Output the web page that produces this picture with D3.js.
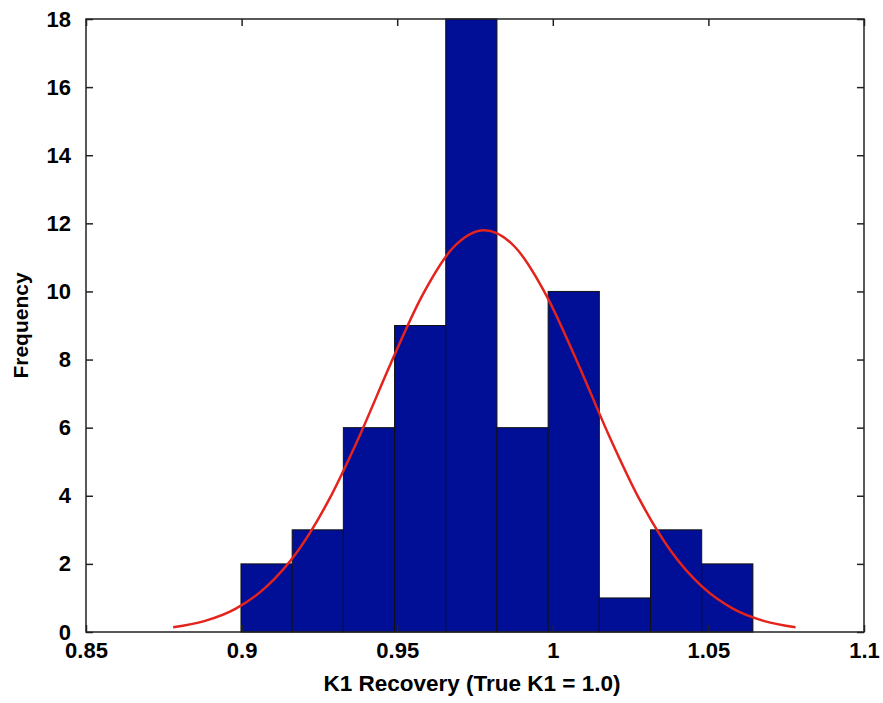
<!DOCTYPE html>
<html><head><meta charset="UTF-8">
<style>
body { margin: 0; background: #fff; }
text { font-family: "Liberation Sans", Arial, sans-serif; font-weight: bold; fill: #000; }
.bar { fill: #000f96; stroke: #111; stroke-width: 1; }
.fit { fill: none; stroke: #e3231c; stroke-width: 2.5px; }
</style>
</head>
<body>
<svg width="883" height="703"></svg>
<script src="https://cdn.jsdelivr.net/npm/d3@7"></script>
<script>

// histogram bins (left edge) and counts
var binEdges = [0.8998, 0.91625, 0.9327, 0.94915, 0.9656, 0.98205, 0.9985, 1.01495, 1.0314, 1.04785, 1.0643];
var counts = [2, 3, 6, 9, 18, 6, 10, 1, 3, 2];

// fitted curve
var fitX = [0.878, 0.888, 0.898, 0.908, 0.918, 0.928, 0.938, 0.948, 0.958, 0.968, 0.978,
            0.988, 0.998, 1.008, 1.018, 1.028, 1.038, 1.048, 1.058, 1.068, 1.078];
var fitY = [0.14, 0.32, 0.68, 1.33, 2.37, 3.87, 5.78, 7.90, 9.87, 11.29, 11.80,
            11.29, 9.87, 7.90, 5.78, 3.87, 2.37, 1.33, 0.68, 0.32, 0.14];

var xTicks = [0.85, 0.9, 0.95, 1, 1.05, 1.1];
var yTicks = [0, 2, 4, 6, 8, 10, 12, 14, 16, 18];

var svg = d3.select("svg"),
    margin = {top: 19, right: 19, bottom: 71, left: 86},
    width = svg.attr("width") - margin.left - margin.right,
    height = svg.attr("height") - margin.top - margin.bottom,
    g = svg.append("g").attr("transform", "translate(" + margin.left + "," + margin.top + ")");

var x = d3.scaleLinear().domain([0.85, 1.1]).range([0, width]),
    y = d3.scaleLinear().domain([0, 18]).range([height, 0]);

var bins = counts.map(function(c, i) { return {x0: binEdges[i], x1: binEdges[i + 1], n: c}; });

g.selectAll(".bar")
    .data(bins)
  .enter().append("rect")
    .attr("class", "bar")
    .attr("x", function(d) { return x(d.x0); })
    .attr("y", function(d) { return y(d.n); })
    .attr("width", function(d) { return x(d.x1) - x(d.x0); })
    .attr("height", function(d) { return y(0) - y(d.n); });

var line = d3.line()
    .curve(d3.curveMonotoneX)
    .x(function(d) { return x(d[0]); })
    .y(function(d) { return y(d[1]); });

g.append("path")
    .attr("class", "fit")
    .attr("d", line(fitX.map(function(v, i) { return [v, fitY[i]]; })));

// axes, MATLAB style: ticks inside, box all round
var tick = 7;
function styleAxis(sel) {
  sel.select(".domain").remove();
  sel.selectAll(".tick line").attr("stroke", "#222").attr("stroke-width", 1.5);
}

g.append("g")
    .attr("transform", "translate(0," + height + ")")
    .call(d3.axisBottom(x).tickValues(xTicks).tickSize(-tick).tickPadding(18).tickFormat(d3.format("")))
    .call(styleAxis)
    .selectAll("text").style("font-size", "22px").attr("dy", "0.35em");

g.append("g")
    .call(d3.axisTop(x).tickValues(xTicks).tickSize(-tick).tickFormat(""))
    .call(styleAxis);

g.append("g")
    .call(d3.axisLeft(y).tickValues(yTicks).tickSize(-tick).tickPadding(15))
    .call(styleAxis)
    .selectAll("text").style("font-size", "22px");

g.append("g")
    .attr("transform", "translate(" + width + ",0)")
    .call(d3.axisRight(y).tickValues(yTicks).tickSize(-tick).tickFormat(""))
    .call(styleAxis);

g.append("rect")
    .attr("width", width)
    .attr("height", height)
    .attr("fill", "none")
    .attr("stroke", "#222")
    .attr("stroke-width", 1.5);

svg.selectAll(".tick text").attr("fill", "#000");

g.append("text")
    .attr("x", width / 2 - 3)
    .attr("y", height + 51)
    .attr("dy", "0.35em")
    .attr("text-anchor", "middle")
    .style("font-size", "22.5px")
    .text("K1 Recovery (True K1 = 1.0)");

svg.append("text")
    .attr("transform", "translate(21," + (margin.top + height / 2) + ") rotate(-90)")
    .attr("dy", "0.35em")
    .attr("text-anchor", "middle")
    .style("font-size", "21px")
    .text("Frequency");

</script>
</body></html>
